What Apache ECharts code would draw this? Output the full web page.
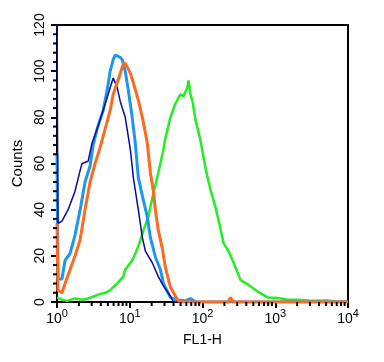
<!DOCTYPE html>
<html>
<head>
<meta charset="utf-8">
<script src="https://cdn.jsdelivr.net/npm/echarts@6/dist/echarts.min.js"></script>
<style>html,body{margin:0;padding:0;background:#fff;}#c{width:384px;height:362px;}</style>
</head>
<body>
<div id="c"></div>
<script>
// FL1-H values (log scale) and counts
var navyData = [[1.0,125],[1.03,34],[1.17,35],[1.42,40],[1.77,48],[2.08,57],[2.21,60],[2.68,61],[3.04,69],[3.56,75],[4.31,83],[5.05,90],[5.92,97],[6.72,93],[7.39,87],[8.67,80],[10.2,66],[11.2,54],[13.1,40],[14.9,28],[16.4,22],[20.4,17],[24.7,11],[29.0,7],[36.2,2.5],[39.8,0],[100,0]];
var lightBlueData = [[1.0,64],[1.03,10],[1.17,10],[1.29,18],[1.51,21],[1.77,29],[2.08,40],[2.43,52],[2.85,59],[3.14,68],[3.56,75],[4.31,83],[4.9,92],[5.38,100],[5.92,105],[6.31,107],[7.39,106],[7.88,105],[8.67,100],[9.53,92],[10.8,80],[11.9,69],[13.1,54],[15.4,44],[17.4,37],[19.2,28],[22.5,19.5],[26.4,14],[29.0,8],[36.2,2],[42.4,1],[58,0.5],[68.3,1.5],[80,0],[10000,0]];
var orangeData = [[1.0,34],[1.03,5],[1.17,4],[1.29,8],[1.51,14],[1.77,20],[2.08,27],[2.43,40],[2.85,52],[3.34,60],[3.92,67],[4.59,75],[5.38,83],[5.92,90],[6.72,95],[7.39,99],[8.13,103],[8.67,103.5],[9.53,101],[10.2,99],[11.2,95],[13.1,87.5],[14.9,80],[17.4,69],[19.2,56],[21.1,48],[22.5,40],[24.7,31],[28.1,23],[30.9,15],[36.2,6.5],[45.2,1],[49.7,0],[225,0],[243,2],[262,0],[10000,0]];
var greenData = [[1.0,2],[1.17,1],[1.37,0.5],[1.77,1.5],[2.28,1],[2.68,1.5],[3.92,3.5],[4.59,4],[5.38,5],[5.92,6.5],[6.72,8],[7.39,9.5],[8.13,11],[8.67,14],[10.8,18],[13.1,24],[15.4,31],[18.0,37],[21.1,47],[24.7,56],[29.0,66],[30.9,71],[36.2,80],[42.4,86],[49.7,90],[54.7,89],[62.1,93],[64.1,96],[68.3,90],[72.8,87],[80.0,79],[93.8,70],[110,58],[129,48.5],[151,41],[166,35.5],[195,25.5],[228,22],[268,17],[334,9.5],[431,7.4],[574,4.5],[788,2],[1082,1.7],[1487,1],[2044,1],[3090,0.5],[4977,0.7],[7278,0.2],[10000,0]];
var xMinorTickValues = [2,3,4,5,6,7,8,9,20,30,40,50,60,70,80,90,200,300,400,500,600,700,800,900,2000,3000,4000,5000,6000,7000,8000,9000];
var yMinorTickValues = [4,8,12,16,24,28,32,36,44,48,52,56,64,68,72,76,84,88,92,96,104,108,112,116];

var chart = echarts.init(document.getElementById('c'), null, {renderer:'canvas'});
var font = 'Liberation Sans, Arial, sans-serif';
function mk(name, data, color, width, z) {
  return {type:'line', name:name, data:data, showSymbol:false, symbol:'none', z:z,
    lineStyle:{color:color, width:width}, animation:false};
}
chart.setOption({
  animation:false,
  backgroundColor:'#fff',
  grid:{left:57, right:36, top:25, bottom:60, show:true, borderColor:'#000', borderWidth:2, backgroundColor:'transparent'},
  xAxis:{type:'log', logBase:10, min:1, max:10000,
    name:'FL1-H', nameLocation:'middle', nameGap:31,
    nameTextStyle:{fontFamily:font, fontSize:14, color:'#000'},
    axisLine:{lineStyle:{color:'#000', width:2}},
    axisTick:{length:6, lineStyle:{color:'#000', width:2}},
    splitLine:{show:false},
    axisLabel:{margin:6, color:'#000', fontFamily:font,
      formatter:function(v){ return '{b|10}{s|' + Math.round(Math.log10(v)) + '}'; },
      rich:{b:{fontSize:14, fontFamily:font, color:'#000', lineHeight:18, verticalAlign:'bottom'},
            s:{fontSize:11, fontFamily:font, color:'#000', lineHeight:11, verticalAlign:'top'}}}
  },
  yAxis:{type:'value', min:0, max:120, interval:20,
    name:'Counts', nameLocation:'middle', nameGap:20,
    nameTextStyle:{fontFamily:font, fontSize:15, color:'#000'},
    axisLine:{lineStyle:{color:'#000', width:2}},
    axisTick:{length:6, lineStyle:{color:'#000', width:2}},
    minorTick:{show:false},
    splitLine:{show:false},
    axisLabel:{rotate:90, margin:10, color:'#000', fontFamily:font, fontSize:14}
  },
  series:[
    mk('green', greenData, '#22EE22', 2.5, 2),
    mk('lightblue', lightBlueData, '#1E96F0', 3, 3),
    mk('navy', navyData, '#0A0AA0', 1.5, 4),
    mk('orange', orangeData, '#FF6A1E', 3, 5),
    {type:'custom', z:6, clip:false, silent:true, animation:false,
      data:xMinorTickValues.map(function(v){return [v,0];}),
      renderItem:function(params, api){
        var p = api.coord([api.value(0), 0]);
        return {type:'line', shape:{x1:p[0], y1:p[1], x2:p[0], y2:p[1]+4},
          style:{stroke:'#000', lineWidth:2}};
      }},
    {type:'custom', z:6, clip:false, silent:true, animation:false,
      data:yMinorTickValues.map(function(v){return [1,v];}),
      renderItem:function(params, api){
        var p = api.coord([1, api.value(1)]);
        return {type:'line', shape:{x1:p[0], y1:p[1], x2:p[0]-4, y2:p[1]},
          style:{stroke:'#000', lineWidth:2}};
      }}
  ]
});
</script>
</body>
</html>
